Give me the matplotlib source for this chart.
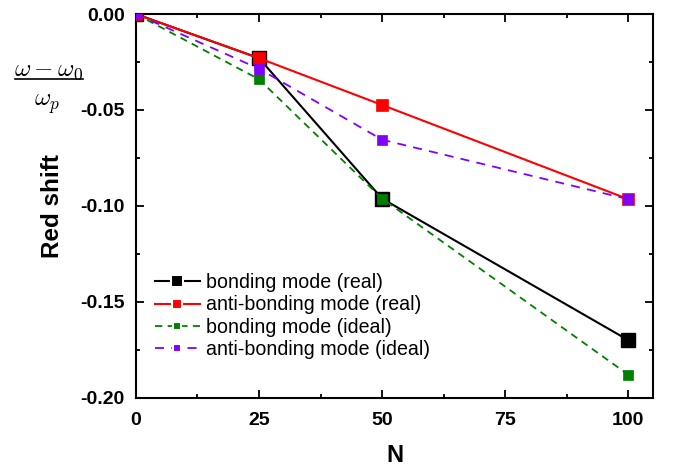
import matplotlib
matplotlib.use("Agg")
import matplotlib.pyplot as plt
from matplotlib.lines import Line2D
from matplotlib.ticker import MultipleLocator, FormatStrFormatter

plt.rcParams['font.family'] = ['Liberation Sans', 'DejaVu Sans']
plt.rcParams['mathtext.fontset'] = 'cm'

N = [0, 25, 50, 100]
bonding_real = [0.0, -0.023, -0.0962, -0.170]
anti_real = [0.0, -0.023, -0.0474, -0.0965]
bonding_ideal = [0.0, -0.034, -0.0962, -0.188]
anti_ideal = [0.0, -0.0285, -0.0655, -0.0965]

labels = ["bonding mode (real)", "anti-bonding mode (real)",
          "bonding mode (ideal)", "anti-bonding mode (ideal)"]

fig = plt.figure(figsize=(6.76, 4.68), dpi=100)
ax = fig.add_axes([0.201, 0.150, 0.765, 0.820])

ax.plot(N, bonding_real, color='black', lw=1.5, marker='s', ms=10,
        mfc='black', mec='black', label=labels[0], zorder=3)
ax.plot(N, anti_real, color='red', lw=1.5, marker='s', ms=8,
        mfc='red', mec='red', mew=0.5, label=labels[1], zorder=4)
ax.plot(N, bonding_ideal, color='green', lw=1.3, ls=(0, (4, 3)), marker='s', ms=6.5,
        mfc='green', mec='green', mew=0.5, label=labels[2], zorder=5)
ax.plot(N, anti_ideal, color='#8000ff', lw=1.3, ls=(0, (5, 4)), marker='s', ms=6.5,
        mfc='#8000ff', mec='#8000ff', mew=0.5, label=labels[3], zorder=5)

ax.set_xlim(0, 105)
ax.set_ylim(-0.20, 0.0)
ax.xaxis.set_major_locator(MultipleLocator(25))
ax.xaxis.set_minor_locator(MultipleLocator(12.5))
ax.yaxis.set_major_locator(MultipleLocator(0.05))
ax.yaxis.set_minor_locator(MultipleLocator(0.025))
ax.yaxis.set_major_formatter(FormatStrFormatter('%.2f'))
ax.tick_params(which='both', direction='in', top=True, right=True, width=1.3)
ax.tick_params(which='major', length=6, labelsize=14)
ax.tick_params(axis='x', which='major', pad=10)
ax.tick_params(axis='y', which='major', pad=8)
ax.tick_params(which='minor', length=3)
for lab in ax.get_xticklabels() + ax.get_yticklabels():
    lab.set_fontweight('bold')
for sp in ax.spines.values():
    sp.set_linewidth(1.5)

ax.set_xlabel('N', fontsize=17, fontweight='bold', labelpad=11)
ax.set_ylabel('Red shift', fontsize=17.5, fontweight='bold', labelpad=12)

leg = ax.legend(loc='upper left', bbox_to_anchor=(0.0, 0.376), frameon=False,
                fontsize=14.1, handlelength=2.25, handletextpad=0.35,
                labelspacing=0.17, borderaxespad=0.8, borderpad=0.2)
for h, ms in zip(leg.legend_handles, [8, 7, 6, 6]):
    h.set_markersize(ms)
    h.set_markeredgecolor('white')
    h.set_markeredgewidth(1.5)

# fraction label
fig.text(0.072, 0.850, r'$\omega-\omega_0$', fontsize=18, ha='center', va='center')
fig.add_artist(Line2D([0.022, 0.123], [0.831, 0.831], color='black', lw=1.2))
fig.text(0.070, 0.778, r'$\omega_p$', fontsize=18, ha='center', va='center')

fig.savefig('out.png', dpi=100)
